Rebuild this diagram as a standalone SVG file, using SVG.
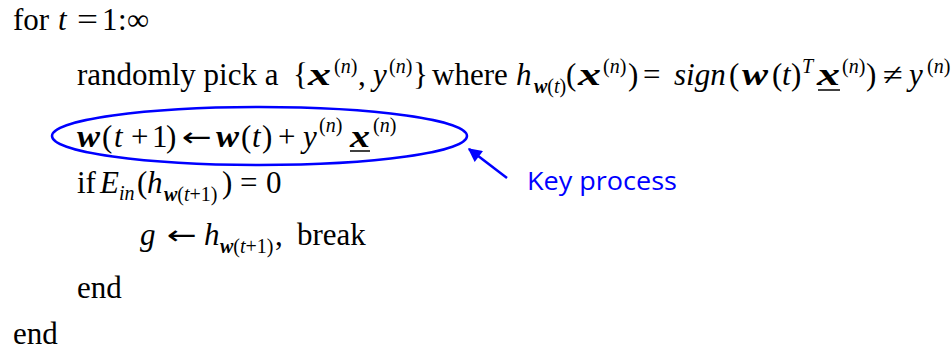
<svg xmlns="http://www.w3.org/2000/svg" width="952" height="354" viewBox="0 0 952 354">
<style>
.m{font-family:'Liberation Serif','DejaVu Serif',serif;font-size:31px;fill:#000}
.i{font-style:italic}
.b{font-style:italic;font-weight:bold}
.s{font-size:20px}
.u{stroke:#000;stroke-width:1.5}
.blue{stroke:#0000ff;stroke-width:2.5;fill:none}
.arr{font-family:'DejaVu Sans',sans-serif;font-size:26px;fill:#000}
.key{font-family:'Open Sans','Noto Sans','Liberation Sans',sans-serif;font-size:26px;fill:#0000ff}
</style>
<defs>
<marker id="ah" viewBox="0 0 10 10" refX="9" refY="5" markerWidth="6" markerHeight="5.5" orient="auto" markerUnits="strokeWidth">
<path d="M0,0 L10,5 L0,10 z" fill="#0000ff"/>
</marker>
</defs>
<rect width="952" height="354" fill="#fff"/>
<g id="line1">
<text class="m" y="30"><tspan x="13">for</tspan><tspan x="58" class="i">t</tspan><tspan x="102">1</tspan><tspan x="118">:</tspan><tspan x="127">∞</tspan></text>
<text class="m" x="77" y="30" textLength="21" lengthAdjust="spacingAndGlyphs">=</text>
</g>
<g id="line2">
<text class="m" y="85"><tspan x="77">randomly pick a</tspan><tspan x="293">{</tspan><tspan x="358">,</tspan><tspan x="413">}</tspan><tspan x="432">where</tspan><tspan x="516" class="i">h</tspan><tspan x="566">(</tspan><tspan x="628">)</tspan><tspan x="643">=</tspan><tspan x="674" class="i">sign</tspan><tspan x="729">(</tspan><tspan x="772">(</tspan><tspan x="782" class="i">t</tspan><tspan x="791">)</tspan><tspan x="866">)</tspan><tspan x="909" class="i">y</tspan></text>
<text class="i m" x="373" y="85">y</text>
<text class="m b" x="308" y="85" textLength="23" lengthAdjust="spacingAndGlyphs">x</text>
<text class="m b" x="578" y="85" textLength="23" lengthAdjust="spacingAndGlyphs">x</text>
<text class="m b" x="742" y="85" textLength="26" lengthAdjust="spacingAndGlyphs">w</text>
<text class="m b" x="817" y="85" textLength="23" lengthAdjust="spacingAndGlyphs">x</text>
<text class="m" x="883" y="85" textLength="20" lengthAdjust="spacingAndGlyphs">≠</text>
<text class="m s" y="73"><tspan x="334">(</tspan><tspan class="i">n</tspan><tspan>)</tspan><tspan x="389">(</tspan><tspan class="i">n</tspan><tspan>)</tspan><tspan x="603">(</tspan><tspan class="i">n</tspan><tspan>)</tspan><tspan x="802" class="i">T</tspan><tspan x="842">(</tspan><tspan class="i">n</tspan><tspan>)</tspan><tspan x="927">(</tspan><tspan class="i">n</tspan><tspan>)</tspan></text>
<text class="m s" y="93"><tspan x="534" class="b">w</tspan><tspan>(</tspan><tspan class="i">t</tspan><tspan>)</tspan></text>
<line class="u" x1="818" y1="90" x2="840" y2="90"/>
</g>
<g id="line3">
<text class="m" y="147"><tspan x="102">(</tspan><tspan x="114" class="i">t</tspan><tspan x="131">+</tspan><tspan x="152">1</tspan><tspan x="166">)</tspan><tspan x="241">(</tspan><tspan x="252" class="i">t</tspan><tspan x="262">)</tspan><tspan x="278">+</tspan><tspan x="303" class="i">y</tspan></text>
<text class="m b" x="77" y="147" textLength="23" lengthAdjust="spacingAndGlyphs">w</text>
<text class="arr" x="182" y="146" textLength="30" lengthAdjust="spacingAndGlyphs">←</text>
<text class="m b" x="216" y="147" textLength="23" lengthAdjust="spacingAndGlyphs">w</text>
<text class="m b" x="350" y="147" textLength="20" lengthAdjust="spacingAndGlyphs">x</text>
<text class="m s" y="132"><tspan x="319">(</tspan><tspan class="i">n</tspan><tspan>)</tspan><tspan x="373">(</tspan><tspan class="i">n</tspan><tspan>)</tspan></text>
<line class="u" x1="350" y1="151" x2="370" y2="151"/>
</g>
<g id="key-ellipse">
<ellipse class="blue" cx="259.5" cy="136" rx="207.5" ry="29"/>
</g>
<g id="line4">
<text class="m" y="193"><tspan x="77">if</tspan><tspan x="100" class="i">E</tspan><tspan x="137">(</tspan><tspan x="147" class="i">h</tspan><tspan x="222">)</tspan><tspan x="240">=</tspan><tspan x="266">0</tspan></text>
<text class="m s" y="200"><tspan x="119" class="i">in</tspan></text>
<text class="m s" y="201" font-size="21"><tspan x="164" class="b">w</tspan><tspan>(</tspan><tspan class="i">t</tspan><tspan>+1)</tspan></text>
</g>
<g id="line5">
<text class="m" y="245"><tspan x="140" class="i">g</tspan><tspan x="204" class="i">h</tspan><tspan x="275">,</tspan><tspan x="297">break</tspan></text>
<text class="arr" x="167" y="244" textLength="30" lengthAdjust="spacingAndGlyphs">←</text>
<text class="m s" y="253"><tspan x="220" class="b">w</tspan><tspan>(</tspan><tspan class="i">t</tspan><tspan>+1)</tspan></text>
</g>
<g id="line6"><text class="m" x="77" y="298">end</text></g>
<g id="line7"><text class="m" x="13" y="344">end</text></g>
<g id="callout">
<text class="key" x="527" y="190" textLength="150" lengthAdjust="spacingAndGlyphs">Key process</text>
</g>
<g id="connectors">
<line class="blue" x1="507" y1="178" x2="469" y2="149" stroke-width="3" marker-end="url(#ah)"/>
</g>
</svg>
